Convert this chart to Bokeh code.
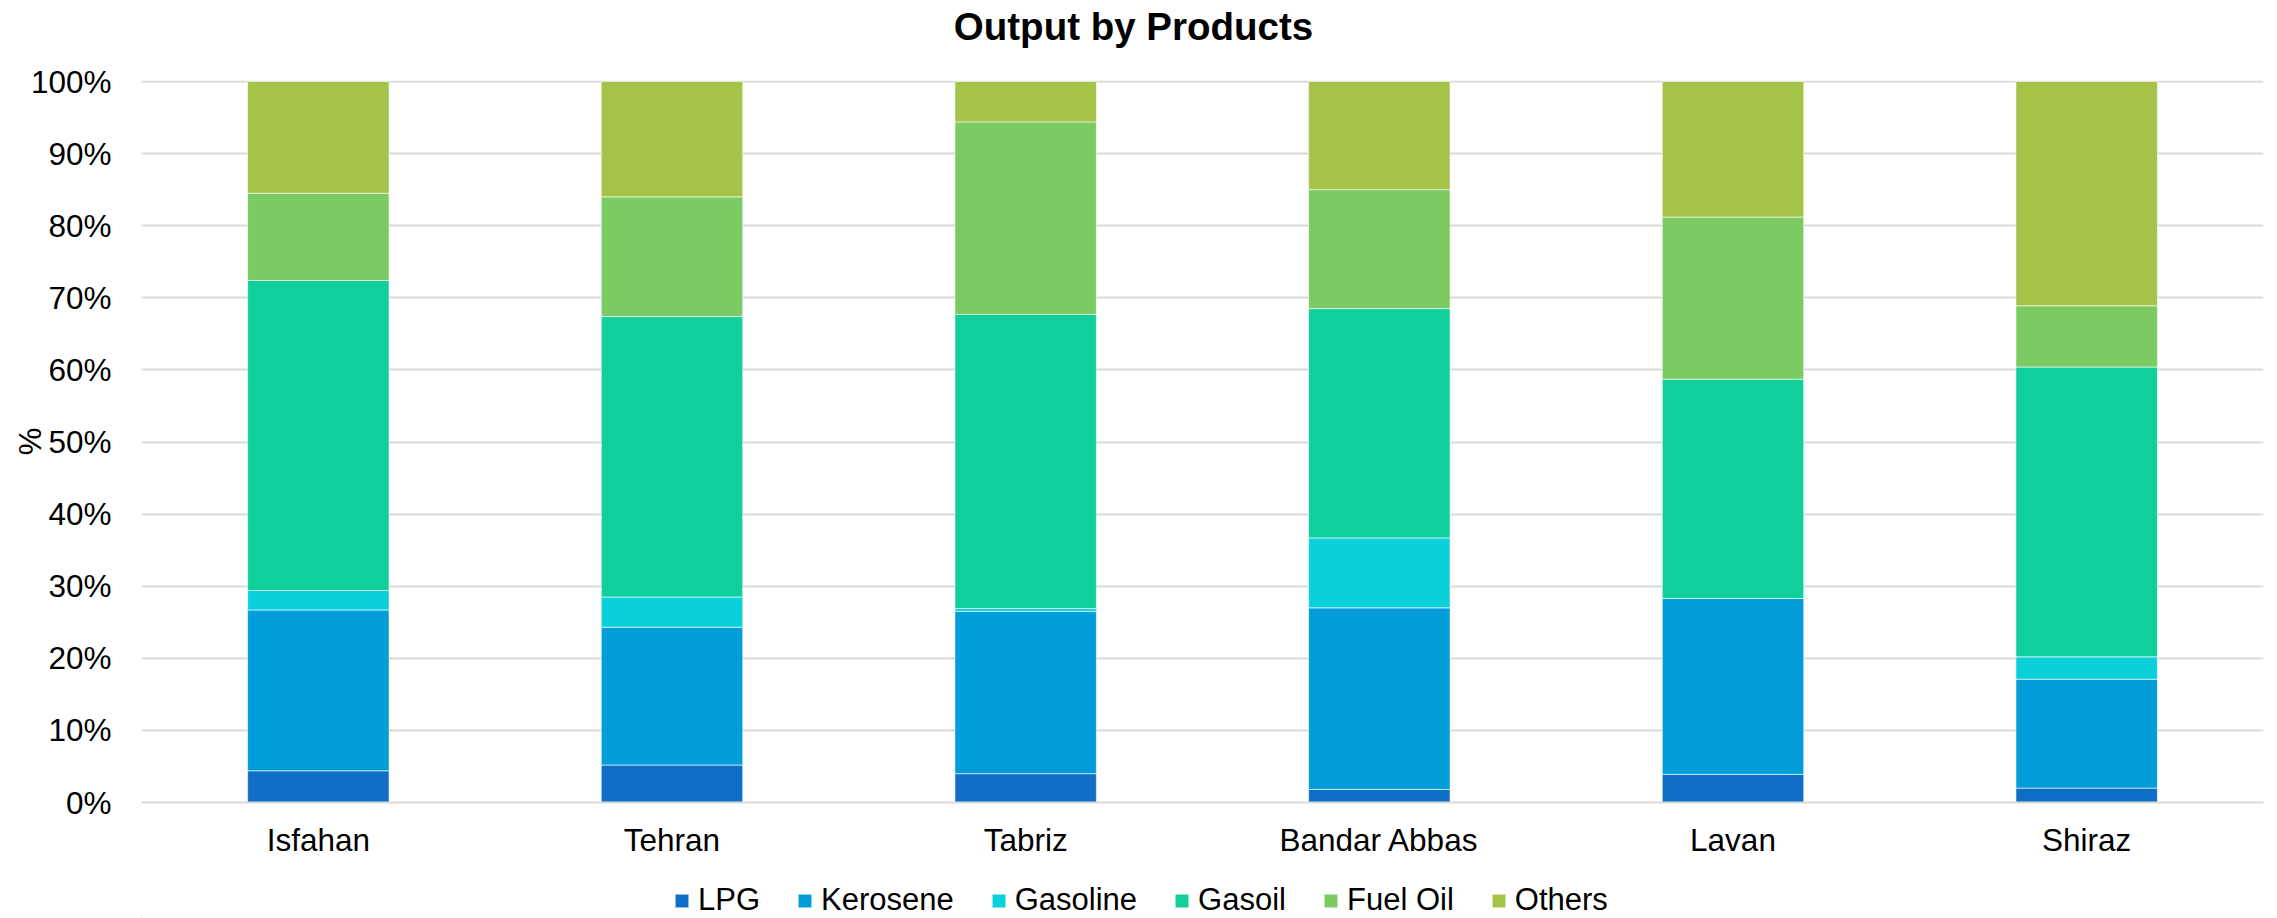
from bokeh.plotting import figure
from bokeh.layouts import column
from bokeh.models import (ColumnDataSource, FactorRange, Range1d, FixedTicker,
                          PrintfTickFormatter, Legend, LegendItem, Label)
from bokeh.embed import file_html
from bokeh.resources import INLINE

# Refinery output shares (% of total output)
refineries = ["Isfahan", "Tehran", "Tabriz", "Bandar Abbas", "Lavan", "Shiraz"]
products = ["LPG", "Kerosene", "Gasoline", "Gasoil", "Fuel Oil", "Others"]
lpg = [4.4, 5.2, 4.0, 1.8, 3.9, 2.0]
kerosene = [22.3, 19.1, 22.5, 25.2, 24.4, 15.1]
gasoline = [2.7, 4.2, 0.4, 9.7, 0.0, 3.1]
gasoil = [43.0, 38.9, 40.8, 31.8, 30.4, 40.2]
fuel_oil = [12.1, 16.6, 26.7, 16.5, 22.5, 8.5]
others = [15.5, 16.0, 5.6, 15.0, 18.8, 31.1]
y_ticks = list(range(0, 101, 10))
chart_title = "Output by Products"

colors = ["#0F6FC6", "#009DD9", "#0BD0D9", "#10CF9B", "#7CCA62", "#A5C249"]
FONT = "Liberation Sans"
W = 2277
LEFT, RIGHT = 141, 14          # side borders shared by all three strips
TOP_H, MAIN_H, LEG_H = 51, 809, 58
MAIN_TOP = 29                  # room above the plot frame for the "100%" label


def strip(height):
    """A bare figure whose frame maps 1:1 onto canvas pixels."""
    f = figure(
        width=W, height=height,
        x_range=Range1d(LEFT, W - RIGHT), y_range=Range1d(0, height),
        output_backend="svg", toolbar_location=None,
        min_border_left=LEFT, min_border_right=RIGHT,
        min_border_top=0, min_border_bottom=0,
    )
    f.axis.visible = False
    f.grid.visible = False
    f.outline_line_color = None
    f.background_fill_color = "white"
    f.border_fill_color = "white"
    return f


# ---- title strip ----
top = strip(TOP_H)
top.add_layout(Label(
    x=1133, y=25, text=chart_title,
    text_align="center", text_baseline="alphabetic",
    text_font=FONT, text_font_size="38.5px", text_font_style="bold",
    text_color="black",
))

# ---- main chart ----
source = ColumnDataSource(dict(
    refinery=refineries,
    LPG=lpg, Kerosene=kerosene, Gasoline=gasoline,
    Gasoil=gasoil, **{"Fuel Oil": fuel_oil}, Others=others,
))

p = figure(
    width=W, height=MAIN_H,
    x_range=FactorRange(*refineries, range_padding=0),
    # a hair of headroom keeps the full 100% gridline inside the frame
    y_range=Range1d(0, 100.14),
    output_backend="svg", toolbar_location=None,
    min_border_left=LEFT, min_border_right=RIGHT,
    min_border_top=MAIN_TOP, min_border_bottom=56,
)
p.outline_line_color = None
p.background_fill_color = "white"
p.border_fill_color = "white"

p.vbar_stack(
    products, x="refinery", width=0.4, source=source,
    fill_color=colors, line_color="white", line_width=0.6,
)

p.xaxis.axis_line_color = "#D9D9D9"
p.xaxis.axis_line_width = 2
p.xaxis.major_tick_line_color = None
p.xaxis.minor_tick_line_color = None
p.xaxis.major_label_standoff = 13
p.xaxis.major_label_text_font = FONT
p.xaxis.major_label_text_font_size = "31.5px"
p.xaxis.major_label_text_color = "black"

p.yaxis.ticker = FixedTicker(ticks=y_ticks)
p.yaxis.formatter = PrintfTickFormatter(format="%d%%")
p.yaxis.axis_line_color = None
p.yaxis.major_tick_line_color = None
p.yaxis.minor_tick_line_color = None
p.yaxis.major_label_standoff = 24
p.yaxis.major_label_text_font = FONT
p.yaxis.major_label_text_font_size = "31.5px"
p.yaxis.major_label_text_color = "black"
p.yaxis.axis_label = "%"
p.yaxis.axis_label_text_font = FONT
p.yaxis.axis_label_text_font_size = "31px"
p.yaxis.axis_label_text_font_style = "normal"
p.yaxis.axis_label_text_color = "black"
p.yaxis.axis_label_standoff = -20

p.xgrid.grid_line_color = None
p.ygrid.grid_line_color = "#D9D9D9"
p.ygrid.grid_line_width = 2

# ---- legend strip ----
leg = strip(LEG_H)
# one off-screen bar per product so each legend swatch has a glyph to draw
swatches = [
    leg.vbar(x=[-1000], top=[1], width=1, fill_color=c, line_color="white", line_width=0.6)
    for c in colors
]
legend = Legend(
    items=[LegendItem(label=name, renderers=[r]) for name, r in zip(products, swatches)],
    orientation="horizontal",
    location=(673 - LEFT, 0),
    glyph_width=17, glyph_height=17,
    label_standoff=8, spacing=36,
    padding=0, margin=0,
    border_line_color=None, background_fill_alpha=0,
    label_text_font=FONT, label_text_font_size="31px",
    label_text_color="black",
)
leg.add_layout(legend, "center")

layout = column(top, p, leg, spacing=0)
open("out.html", "w").write(file_html(layout, INLINE))
